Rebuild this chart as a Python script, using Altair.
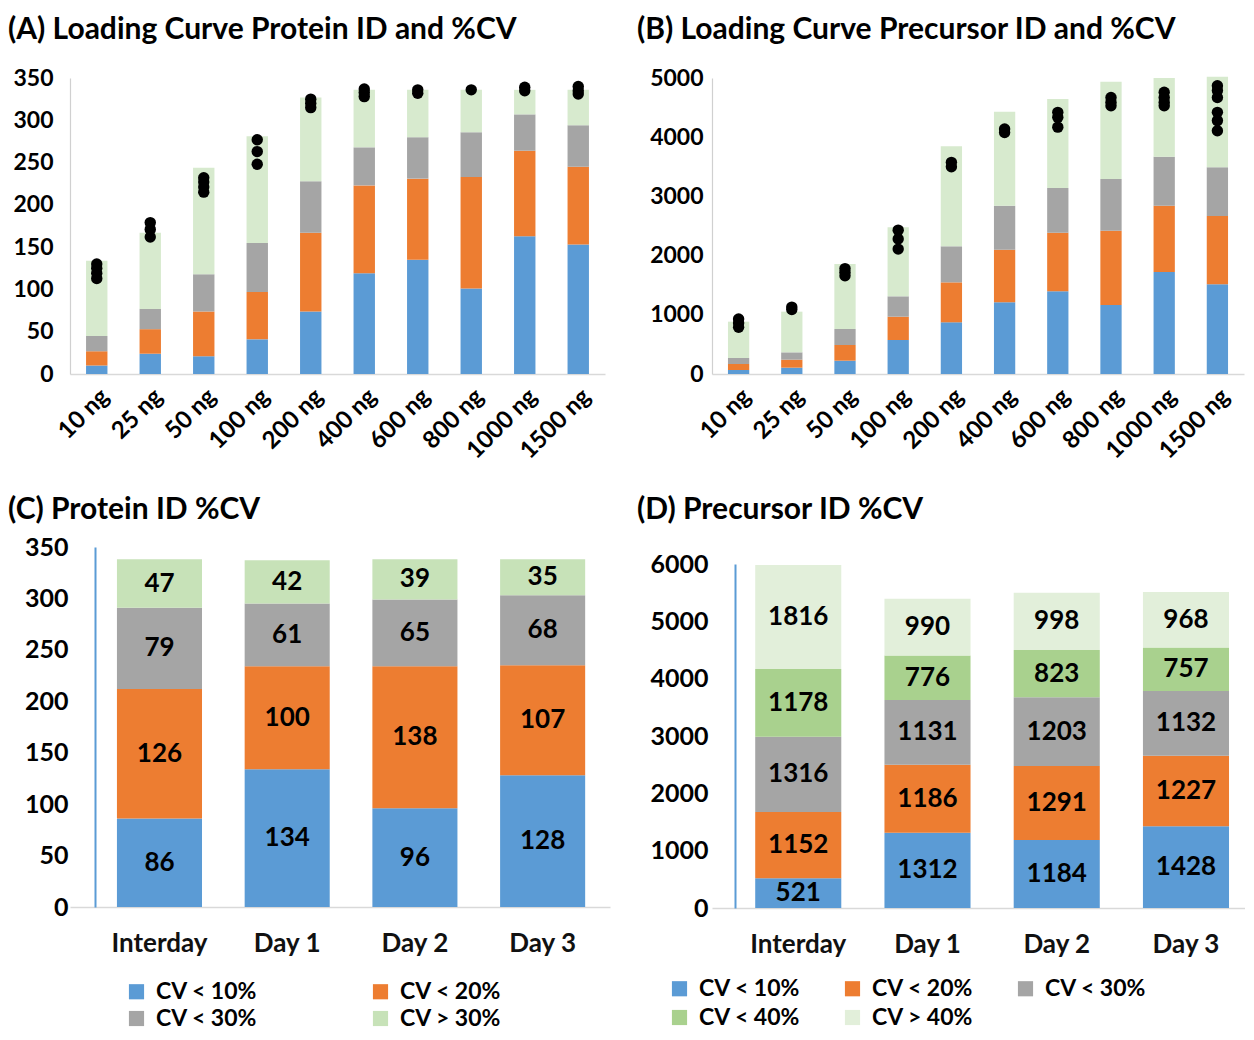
import altair as alt
import pandas as pd

FONT = "Lato"

# ---------------- data ----------------
loads = ["10 ng", "25 ng", "50 ng", "100 ng", "200 ng", "400 ng", "600 ng", "800 ng", "1000 ng", "1500 ng"]
cv4 = ["CV < 10%", "CV < 20%", "CV < 30%", "CV > 30%"]
cv5 = ["CV < 10%", "CV < 20%", "CV < 30%", "CV < 40%", "CV > 40%"]

# (A) protein IDs per CV bin
protA_lt10 = [10, 24, 21, 41, 74, 119, 135, 101, 163, 153]
protA_lt20 = [17, 29, 53, 56, 93, 104, 96, 132, 101, 92]
protA_lt30 = [18, 24, 44, 58, 61, 45, 49, 53, 43, 49]
protA_gt30 = [89, 90, 126, 126, 99, 68, 56, 50, 29, 42]
protA_dots = [
    [130, 125, 119, 113],
    [179, 171, 162],
    [232, 227, 221, 215],
    [277, 263, 248],
    [325, 320, 315],
    [337, 333, 328],
    [336, 332],
    [336],
    [339, 335],
    [340, 335, 331],
]

# (B) precursor IDs per CV bin
precB_lt10 = [68, 107, 225, 574, 873, 1211, 1396, 1166, 1723, 1515]
precB_lt20 = [101, 135, 265, 394, 675, 889, 991, 1255, 1120, 1154]
precB_lt30 = [101, 124, 270, 344, 609, 743, 755, 873, 828, 822]
precB_gt30 = [614, 687, 1098, 1165, 1689, 1588, 1503, 1644, 1329, 1532]
precB_dots = [
    [930, 860, 790],
    [1130, 1090],
    [1780, 1720, 1660],
    [2430, 2280, 2110],
    [3575, 3500],
    [4140, 4080],
    [4420, 4335, 4170],
    [4670, 4590, 4530],
    [4760, 4670, 4590, 4530],
    [4870, 4790, 4670, 4420, 4280, 4110],
]

days = ["Interday", "Day 1", "Day 2", "Day 3"]
# (C) protein ID %CV
protC_lt10 = [86, 134, 96, 128]
protC_lt20 = [126, 100, 138, 107]
protC_lt30 = [79, 61, 65, 68]
protC_gt30 = [47, 42, 39, 35]
# (D) precursor ID %CV
precD_lt10 = [521, 1312, 1184, 1428]
precD_lt20 = [1152, 1186, 1291, 1227]
precD_lt30 = [1316, 1131, 1203, 1132]
precD_lt40 = [1178, 776, 823, 757]
precD_gt40 = [1816, 990, 998, 968]

BLUE, ORANGE, GRAY = "#5B9BD5", "#ED7D31", "#A5A5A5"
colorsAB = [BLUE, ORANGE, GRAY, "#D7EACE"]
colorsC = [BLUE, ORANGE, GRAY, "#C7E2B8"]
colorsD = [BLUE, ORANGE, GRAY, "#A9D18E", "#E2EFDA"]


def long_table(cats, catname, series, names):
    rows = []
    for k, (vals, nm) in enumerate(zip(series, names)):
        for c, v in zip(cats, vals):
            rows.append({catname: c, "cv": nm, "value": v, "order": k})
    return pd.DataFrame(rows)


def dot_table(cats, dots):
    rows = []
    for c, ds in zip(cats, dots):
        for d in ds:
            rows.append({"load": c, "id": d})
    return pd.DataFrame(rows)


def title_params(text, offset, dy):
    return alt.TitleParams(text, anchor="start", font=FONT, fontSize=30, fontWeight="bold",
                           color="black", offset=offset, frame="bounds", dy=dy)


def loading_panel(df, dots, ymax, yvals, colors, title, extent, labpad, width, toffset):
    x = alt.X("load:N", sort=loads,
              scale=alt.Scale(paddingInner=0.6, paddingOuter=0.3),
              axis=alt.Axis(title=None, labelAngle=-45, labelFont=FONT, labelFontSize=24,
                            labelFontWeight="bold", labelColor="black", ticks=False,
                            domainColor="#D9D9D9", domainWidth=1.5, labelPadding=10))
    y = alt.Y("value:Q", stack="zero",
              scale=alt.Scale(domain=[0, ymax], nice=False),
              axis=alt.Axis(title=None, values=yvals, format="d", grid=False, ticks=False,
                            labelFont=FONT, labelFontSize=23, labelFontWeight="bold",
                            labelColor="black", domainColor="#D0D0D0", domainWidth=1.2,
                            labelPadding=labpad, minExtent=extent, maxExtent=extent))
    bars = alt.Chart(df).mark_bar().encode(
        x=x, y=y,
        color=alt.Color("cv:N", scale=alt.Scale(domain=cv4, range=colors), legend=None),
        order=alt.Order("order:Q", sort="ascending"),
    )
    pts = alt.Chart(dots).mark_circle(size=130, color="black", opacity=1).encode(
        x=alt.X("load:N", sort=loads), y=alt.Y("id:Q"))
    return alt.layer(bars, pts).properties(width=width, height=296,
                                           title=title_params(title, toffset, -4))


def cv_panel(df, domain, colors, ymax, yvals, title, extent, labpad, axoff, width, height,
             xouter, xalign, toffset, legX, legY, cols, colpad, rowpad):
    x = alt.X("day:N", sort=days,
              scale=alt.Scale(paddingInner=0.334, paddingOuter=xouter, align=xalign),
              axis=alt.Axis(title=None, labelAngle=0, labelFont=FONT, labelFontSize=26,
                            labelFontWeight="bold", labelColor="#111111", ticks=False,
                            domainColor="#D9D9D9", domainWidth=1.5, labelPadding=23))
    y = alt.Y("value:Q", stack="zero",
              scale=alt.Scale(domain=[0, ymax], nice=False),
              axis=alt.Axis(title=None, values=yvals, format="d", grid=False, ticks=False,
                            labelFont=FONT, labelFontSize=25, labelFontWeight="bold",
                            labelColor="black", domainColor="#5B9BD5", domainWidth=2,
                            labelPadding=labpad, minExtent=extent, maxExtent=extent,
                            offset=axoff))
    bars = alt.Chart(df).mark_bar().encode(
        x=x, y=y,
        color=alt.Color("cv:N", scale=alt.Scale(domain=domain, range=colors),
                        legend=alt.Legend(title=None, orient="none", legendX=legX, legendY=legY,
                                          direction="horizontal", columns=cols,
                                          columnPadding=colpad, rowPadding=rowpad,
                                          symbolType="square", symbolSize=230,
                                          symbolStrokeWidth=0, labelFont=FONT,
                                          labelFontSize=23, labelColor="black",
                                          labelFontWeight="bold", labelOffset=8)),
        order=alt.Order("order:Q", sort="ascending"),
    )
    texts = alt.Chart(df).transform_stack(
        stack="value", groupby=["day"], sort=[alt.SortField("order", "ascending")],
        as_=["v0", "v1"]
    ).transform_calculate(mid="(datum.v0 + datum.v1) / 2").mark_text(
        font=FONT, fontSize=26, fontWeight="bold", color="black"
    ).encode(x=alt.X("day:N", sort=days), y=alt.Y("mid:Q"), text=alt.Text("value:Q"))
    return alt.layer(bars, texts).properties(width=width, height=height,
                                             title=title_params(title, toffset, 0))


dfA = long_table(loads, "load", [protA_lt10, protA_lt20, protA_lt30, protA_gt30], cv4)
dfB = long_table(loads, "load", [precB_lt10, precB_lt20, precB_lt30, precB_gt30], cv4)
dfC = long_table(days, "day", [protC_lt10, protC_lt20, protC_lt30, protC_gt30], cv4)
dfD = long_table(days, "day", [precD_lt10, precD_lt20, precD_lt30, precD_lt40, precD_gt40], cv5)

chartA = loading_panel(dfA, dot_table(loads, protA_dots), 350, list(range(0, 351, 50)), colorsAB,
                       "(A) Loading Curve Protein ID and %CV", 62, 17, 535, 18)
chartB = loading_panel(dfB, dot_table(loads, precB_dots), 5000, list(range(0, 5001, 1000)), colorsAB,
                       "(B) Loading Curve Precursor ID and %CV", 75, 9, 532, 18)
chartC = cv_panel(dfC, cv4, colorsC, 350, list(range(0, 351, 50)), "(C) Protein ID %CV",
                  87, 27, -25, 540, 360, 0.281, 0.654, 10, 55, 433, 2, 111, 3)
chartD = cv_panel(dfD, cv5, colorsD, 6000, list(range(0, 6001, 1000)), "(D) Precursor ID %CV",
                  98, 27, -23, 533, 344, 0.229, 0.73, 27, -44, 413, 3, 40, 5)

chart = alt.concat(chartA, chartB, chartC, chartD, columns=2, align="none",
                   spacing={"row": 32, "column": 27}).resolve_scale(
    color="independent").resolve_legend(color="independent").configure_view(
    stroke=None).properties(padding={"top": 7, "left": 0, "right": 0, "bottom": 0},
                            background="white")

chart.save("out.html", embed_options={"renderer": "svg", "actions": False})
